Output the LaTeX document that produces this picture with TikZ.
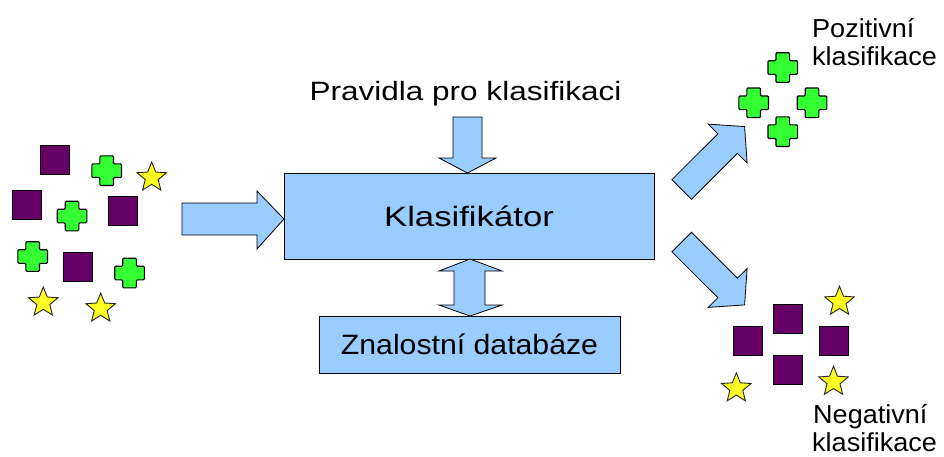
\documentclass[tikz,border=0pt]{standalone}
\usepackage{fontspec}
\setmainfont{Liberation Sans}
\definecolor{boxblue}{HTML}{99CCFF}
\definecolor{sqpurple}{HTML}{660066}
\definecolor{crgreen}{HTML}{33FF33}
\definecolor{styellow}{HTML}{FFFF22}
\tikzset{
  blockarrow/.style={draw=black, line width=0.8pt, fill=boxblue, line join=miter},
  boxst/.style={draw=black, line width=0.8pt, fill=boxblue, inner sep=0pt},
  lbl/.style={inner sep=0pt, text=black},
  sqst/.style={draw=black, line width=0.9pt, fill=sqpurple},
  crst/.style={draw=black, line width=1.1pt, fill=crgreen, rounded corners=1pt},
  stst/.style={draw=black!85, line width=0.9pt, fill=styellow, line join=miter},
  pics/sqsym/.style={code={\draw[sqst] (-14.5,-14.5) rectangle (14.5,14.5);}},
  pics/crsym/.style={code={\draw[crst] (-6.8,-14.8) -- (6.8,-14.8) -- (6.8,-6.8) -- (14.8,-6.8) -- (14.8,6.8) -- (6.8,6.8) -- (6.8,14.8) -- (-6.8,14.8) -- (-6.8,6.8) -- (-14.8,6.8) -- (-14.8,-6.8) -- (-6.8,-6.8) -- cycle;}},
  pics/stsym/.style={code={\draw[stst] (-90:15.5) -- (-54:6.8) -- (-18:15.5) -- (18:6.8) -- (54:15.5) -- (90:6.8) -- (126:15.5) -- (162:6.8) -- (198:15.5) -- (234:6.8) -- cycle;}}
}
\begin{document}
\begin{tikzpicture}[x=1pt, y=-1pt]
\useasboundingbox (0,0) rectangle (944,456);
\fill[white] (0,0) rectangle (944,456);

% boxes
\node[boxst, minimum width=370pt, minimum height=86pt, font=\fontsize{28}{32}\selectfont] (klas) at (469,216) {\scalebox{1.24}[1]{Klasifikátor}};
\node[boxst, minimum width=301pt, minimum height=57pt, font=\fontsize{28}{32}\selectfont] (db) at (469.5,344.5) {\scalebox{1.08}[1]{Znalostní databáze}};

% labels
\node[lbl, anchor=base, font=\fontsize{26.5}{30}\selectfont] (rules) at (465.5,100) {\scalebox{1.19}[1]{Pravidla pro klasifikaci}};
\node[lbl, anchor=base west, font=\fontsize{26}{30}\selectfont] (pos1) at (812,37) {\scalebox{1.04}[1]{Pozitivní}};
\node[lbl, anchor=base west, font=\fontsize{26}{30}\selectfont] (pos2) at (812,65) {\scalebox{1.04}[1]{klasifikace}};
\node[lbl, anchor=base west, font=\fontsize{26}{30}\selectfont] (neg1) at (813,423) {\scalebox{1.04}[1]{Negativní}};
\node[lbl, anchor=base west, font=\fontsize{26}{30}\selectfont] (neg2) at (812,451.5) {\scalebox{1.04}[1]{klasifikace}};

% input arrow
\draw[blockarrow] (182,203) -- (257,203) -- (257,191) -- (284,219) -- (257,249) -- (257,235) -- (182,235) -- cycle;
% rules arrow
\draw[blockarrow] (453,117) -- (482,117) -- (482,158) -- (496,158) -- (467.5,173) -- (439,158) -- (453,158) -- cycle;
% double arrow
\draw[blockarrow] (470,259) -- (502,271) -- (485,271) -- (485,305) -- (502,305) -- (470,316) -- (439,305) -- (454,305) -- (454,271) -- (439,271) -- cycle;
% positive arrow
\draw[blockarrow] (671.9,179.7) -- (717.9,133.8) -- (708.2,124.1) -- (744.6,126.6) -- (747.1,162.9) -- (737.4,153.3) -- (691.5,199.3) -- cycle;
% negative arrow
\draw[blockarrow] (671.9,251.8) -- (717.9,297.7) -- (708.2,307.4) -- (744.6,304.9) -- (747.1,268.6) -- (737.4,278.2) -- (691.5,232.2) -- cycle;

% left mixed set
\pic at (55.3,159.5) {sqsym};
\pic at (27,205.3) {sqsym};
\pic at (123,211) {sqsym};
\pic at (78,267.2) {sqsym};
\pic at (106.7,170.7) {crsym};
\pic at (72,216) {crsym};
\pic at (32.7,256.5) {crsym};
\pic at (129.5,273) {crsym};
\pic at (151.7,177.5) {stsym};
\pic at (43.3,302.5) {stsym};
\pic at (100.7,308.5) {stsym};

% positive set
\pic at (782.8,67.5) {crsym};
\pic at (753.7,102.8) {crsym};
\pic at (812,102.8) {crsym};
\pic at (782.8,131.7) {crsym};

% negative set
\pic at (787.5,318.7) {sqsym};
\pic at (748,340.8) {sqsym};
\pic at (834.2,340.8) {sqsym};
\pic at (787.5,369.7) {sqsym};
\pic at (839.5,301.7) {stsym};
\pic at (736.3,388.3) {stsym};
\pic at (833.5,381.7) {stsym};
\end{tikzpicture}
\end{document}
